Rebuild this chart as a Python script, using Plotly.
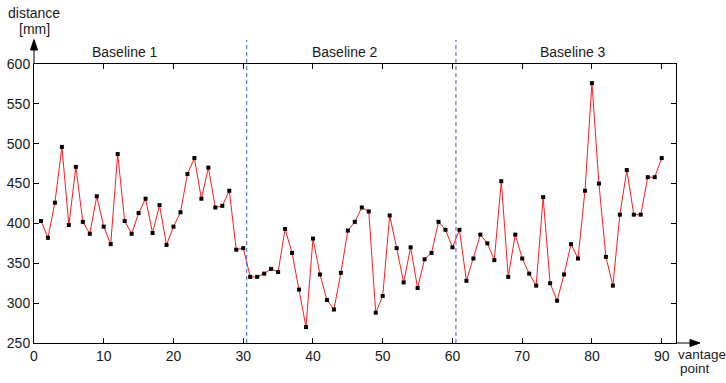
import plotly.graph_objects as go

vantage_point = list(range(1, 91))
distance_mm = [
    403, 382, 426, 496, 398, 471, 402, 387, 434, 396,
    374, 487, 403, 387, 413, 431, 388, 423, 373, 396,
    414, 462, 482, 431, 470, 420, 422, 441, 367, 369,
    333, 333, 337, 343, 339, 393, 363, 317, 270, 381,
    336, 304, 292, 338, 391, 402, 420, 415, 288, 309,
    410, 369, 326, 370, 319, 355, 363, 402, 392, 370,
    392, 328, 356, 386, 375, 354, 453, 333, 386, 356,
    337, 322, 433, 325, 303, 336, 374, 356, 441, 576,
    450, 358, 322, 411, 467, 411, 411, 458, 458, 482,
]
baseline_bounds = [30.5, 60.5]
baseline_labels = ["Baseline 1", "Baseline 2", "Baseline 3"]
baseline_label_x = [13.1, 44.6, 77.3]
x_ticks = [0, 10, 20, 30, 40, 50, 60, 70, 80, 90]
y_ticks = [250, 300, 350, 400, 450, 500, 550, 600]

FONT = "Arial, Liberation Sans, sans-serif"
TXT = "#1a1a1a"

fig = go.Figure()
fig.add_trace(go.Scatter(
    x=vantage_point, y=distance_mm, mode="lines+markers",
    line=dict(color="#ff1a1a", width=1),
    marker=dict(symbol="square", size=4, color="black"),
    cliponaxis=False, showlegend=False,
))

W, H = 726, 383
ml, mr, mt, mb = 34, 50, 64, 40
pw, ph = W - ml - mr, H - mt - mb

def px_x(p):
    return (p - ml) / pw

def px_y(p):
    return (H - mb - p) / ph

shapes = []
for b in baseline_bounds:
    shapes.append(dict(type="line", xref="x", yref="paper", x0=b, x1=b,
                       y0=0, y1=px_y(40), line=dict(color="#3a5ccc", width=1, dash="4px,3px")))
# y-axis extension with arrowhead
shapes.append(dict(type="line", xref="paper", yref="paper", x0=0, x1=0, y0=1, y1=px_y(48),
                   line=dict(color="black", width=1)))
shapes.append(dict(type="path", xref="paper", yref="paper",
                   path=f"M {px_x(34-3.5)},{px_y(50)} L {px_x(34)},{px_y(39.5)} L {px_x(34+3.5)},{px_y(50)} Z",
                   fillcolor="black", line=dict(color="black", width=1)))
# x-axis extension with arrowhead
shapes.append(dict(type="line", xref="paper", yref="paper", x0=1, x1=px_x(692), y0=0, y1=0,
                   line=dict(color="black", width=1)))
shapes.append(dict(type="path", xref="paper", yref="paper",
                   path=f"M {px_x(690)},{px_y(343-3.5)} L {px_x(700)},{px_y(343)} L {px_x(690)},{px_y(343+3.5)} Z",
                   fillcolor="black", line=dict(color="black", width=1)))

annotations = []
for lx, lt in zip(baseline_label_x, baseline_labels):
    annotations.append(dict(x=lx, y=px_y(51.7), xref="x", yref="paper", text=lt,
                            showarrow=False, xanchor="center", yanchor="middle",
                            font=dict(family=FONT, size=14, color=TXT)))
annotations += [
    dict(x=0, y=px_y(13), xref="paper", yref="paper", text="distance", showarrow=False,
         xanchor="center", yanchor="middle", font=dict(family=FONT, size=14, color=TXT)),
    dict(x=0, y=px_y(29), xref="paper", yref="paper", text="[mm]", showarrow=False,
         xanchor="center", yanchor="middle", font=dict(family=FONT, size=14, color=TXT)),
    dict(x=px_x(676), y=px_y(354), xref="paper", yref="paper", text="vantage", showarrow=False,
         xanchor="left", yanchor="middle", font=dict(family=FONT, size=13.5, color=TXT)),
    dict(x=px_x(678), y=px_y(368.5), xref="paper", yref="paper", text="point", showarrow=False,
         xanchor="left", yanchor="middle", font=dict(family=FONT, size=13.5, color=TXT)),
]

axis_common = dict(showline=True, linecolor="black", linewidth=1, mirror="ticks",
                   ticks="inside", ticklen=5, tickcolor="black", showgrid=False,
                   zeroline=False, automargin=False,
                   tickfont=dict(family=FONT, size=14, color=TXT))
fig.update_layout(
    width=W, height=H,
    margin=dict(l=ml, r=mr, t=mt, b=mb, pad=0, autoexpand=False),
    plot_bgcolor="white", paper_bgcolor="white",
    xaxis=dict(range=[0, 92.05], tickvals=x_ticks, **axis_common),
    yaxis=dict(range=[250, 600], tickvals=y_ticks, **axis_common),
    shapes=shapes, annotations=annotations,
)
fig.write_html("out.html", config={"displayModeBar": False},
               post_script="document.body.style.margin='0px';document.body.style.overflow='hidden';")
